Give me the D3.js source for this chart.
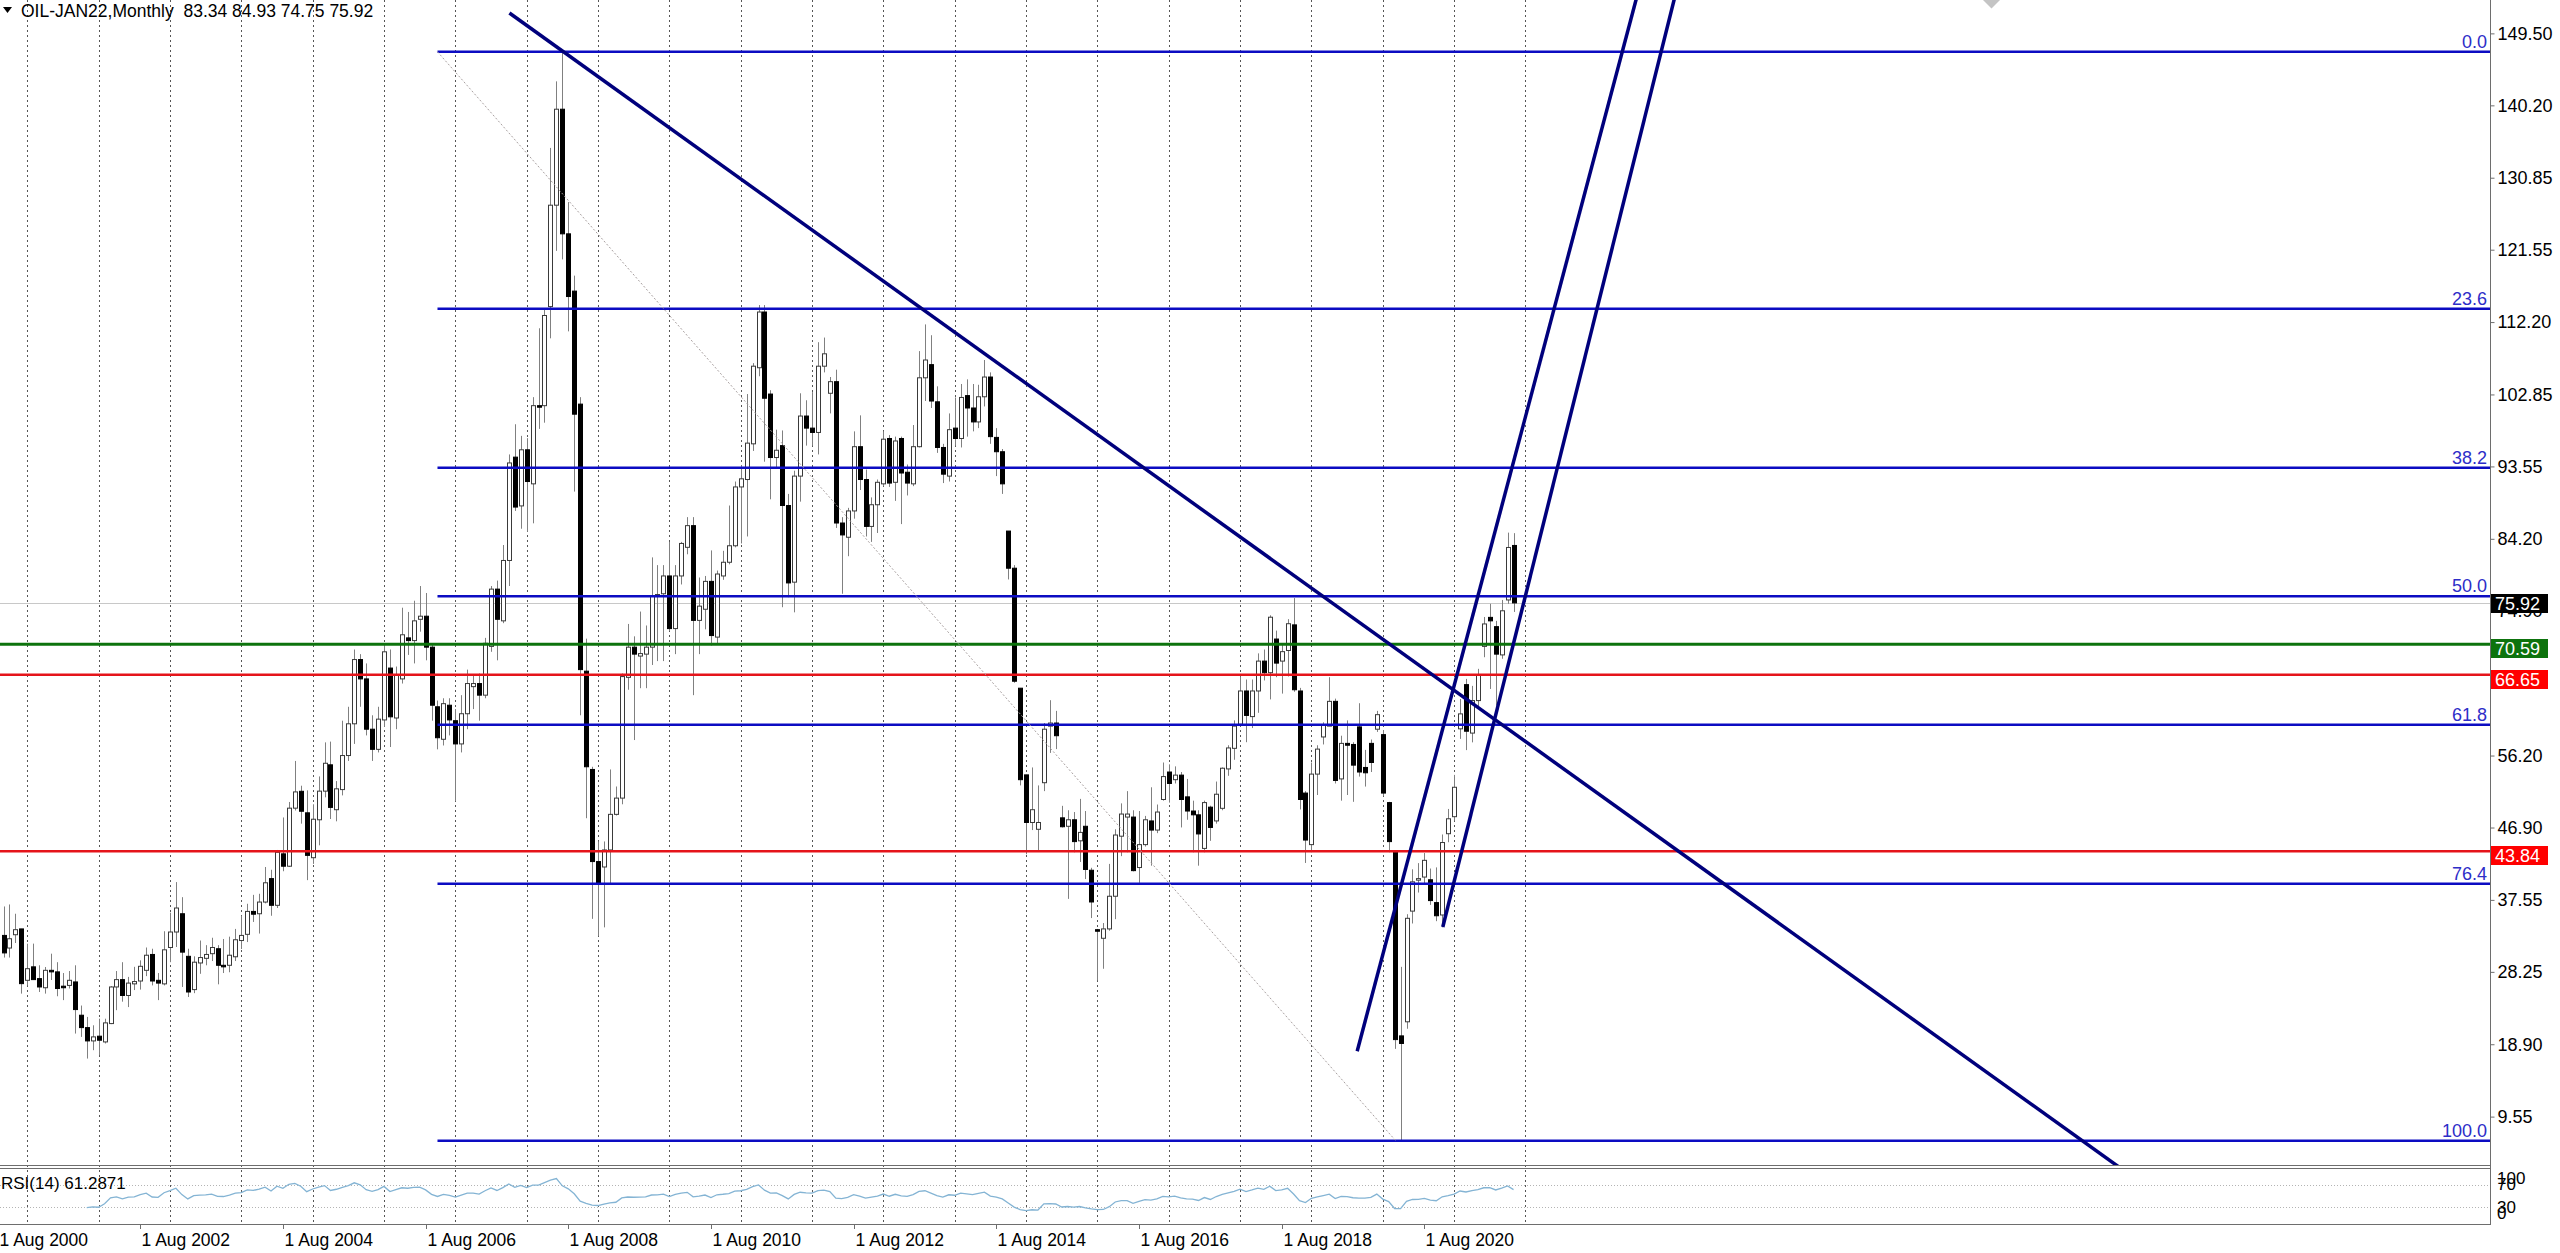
<!DOCTYPE html>
<html>
<head>
<meta charset="utf-8">
<script src="https://cdn.jsdelivr.net/npm/d3@7"></script>
<style>
  body { margin: 0; background: #fff; overflow: hidden; }
  svg { display: block; font-family: "Liberation Sans", Arial, sans-serif; }
</style>
</head>
<body>
<script>
// monthly bars, first one is Sep 2000, last one Nov 2021
var firstBar = "2000-09-01";

var open = [
  32.96,31.33,33.05,33.8,27.16,28.9,27.38,26.2,28.45,28.25,
  26.4,26.5,26.95,22.65,21.05,19.33,19.94,19.2,21.57,26.3,
  27.25,25.2,26.7,27.07,28.45,30.5,27.16,26.7,31.4,33.4,
  35.76,30.26,25.96,29.4,30.0,30.6,31.24,29.1,29.1,30.2,
  32.3,33.1,36.06,35.76,37.27,40.3,36.85,43.5,41.9,49.4,
  51.58,48.8,43.0,47.9,51.6,55.0,49.2,51.8,56.2,60.3,
  68.6,66.1,59.6,57.0,60.8,67.5,61.05,66.1,71.4,71.05,
  73.8,74.2,70.2,62.5,58.3,62.7,60.7,57.7,61.6,65.1,
  65.5,64.0,70.3,77.7,73.6,81.4,94.75,88.45,95.7,91.3,
  101.4,101.4,114.2,127.3,139.7,123.6,116.2,101.6,67.1,54.4,
  42.5,41.8,44.0,48.6,50.7,66.3,70.2,69.05,69.3,70.2,
  76.75,77.1,79.4,72.6,79.4,83.1,85.9,73.66,75.1,78.7,
  71.5,79.4,81.17,83.3,90.9,91.86,96.47,106.3,113.5,102.9,
  94.7,96.24,88.5,78.6,92.3,100.06,98.5,97.94,106.5,103.0,
  104.5,86.24,84.4,87.8,96.1,91.86,85.8,88.6,91.3,97.16,
  91.5,97.16,92.8,91.3,96.1,105.0,106.7,101.9,96.0,92.3,
  98.5,97.16,102.7,101.1,99.3,102.55,105.1,97.3,95.45,85.2,
  80.4,64.9,53.7,47.55,46.67,52.69,60.0,60.4,48.15,47.06,
  47.9,45.18,47.06,41.38,33.7,32.59,33.8,38.02,45.78,48.25,
  48.25,41.73,44.69,47.75,46.57,50.52,54.07,53.08,53.67,50.86,
  49.03,48.54,44.2,49.53,47.75,49.38,54.47,57.13,60.24,64.54,
  61.23,64.54,68.4,66.9,71.25,68.4,69.77,73.08,64.54,51.35,
  44.69,53.8,58.6,60.0,63.2,53.18,57.77,57.63,59.9,54.66,
  57.77,59.6,58.9,50.12,43.7,19.98,21.8,36.1,40.1,40.5,
  40.15,37.2,35.6,46.1,48.3,59.65,65.36,59.1,63.3,70.3,
  74.05,72.85,69.2,76.3,83.34
];
var high = [
  36.7,36.96,35.76,33.8,31.89,31.9,29.1,28.88,30.6,29.5,
  28.1,28.36,29.1,23.9,22.43,21.35,22.2,22.2,26.4,28.36,
  29.5,27.6,28.9,29.74,31.4,31.24,28.1,33.5,35.9,39.85,
  37.9,31.24,30.26,32.3,31.7,32.66,31.7,32.5,32.8,33.8,
  35.5,37.05,38.2,38.34,41.8,41.44,44.0,48.2,50.2,55.5,
  52.3,51.7,49.9,53.5,57.9,58.0,52.9,60.7,62.5,69.9,
  69.3,68.1,61.4,62.5,70.7,69.9,67.7,75.3,74.75,76.2,
  78.1,77.2,70.7,63.3,63.6,63.6,62.2,64.0,67.3,66.6,
  66.8,71.4,78.1,78.8,83.4,95.1,99.0,97.5,97.2,102.5,
  111.4,114.0,134.7,143.3,147.0,127.7,118.2,102.5,71.3,54.75,
  45.1,45.1,54.4,52.2,66.8,73.2,71.6,74.8,73.0,81.8,
  80.8,80.8,83.8,80.8,83.8,87.0,87.0,79.2,79.4,82.7,
  80.1,82.65,88.5,91.6,93.7,102.9,106.9,114.4,114.4,103.4,
  98.3,98.2,90.0,93.0,103.0,102.1,103.15,109.6,110.2,105.1,
  106.05,87.0,88.2,98.08,100.15,93.15,89.55,91.86,98.08,97.6,
  97.4,97.4,93.8,98.9,108.45,111.9,110.5,103.9,96.47,100.4,
  102.46,104.2,104.8,104.2,104.1,107.3,105.7,98.5,95.8,85.2,
  80.8,64.9,53.7,54.66,52.34,60.4,63.35,61.97,49.7,49.13,
  48.9,50.6,49.03,41.7,33.8,34.56,42.2,46.67,50.02,51.6,
  49.13,49.03,48.4,52.1,49.87,55.3,55.06,54.8,54.07,53.18,
  50.37,49.13,50.37,49.72,52.84,54.66,57.53,60.74,66.41,66.02,
  66.02,69.4,69.9,74.32,72.34,70.61,73.82,76.54,64.94,51.6,
  55.3,57.53,60.49,66.32,63.55,58.76,60.74,57.92,62.96,56.93,
  58.27,61.97,59.5,50.22,43.7,28.9,35.7,41.5,42.3,43.6,
  41.6,41.75,46.0,49.3,53.7,63.5,66.1,65.2,67.4,74.1,
  75.8,73.6,76.3,85.0,84.93
];
var low = [
  30.1,30.1,31.98,25.44,26.5,27.2,25.65,25.44,27.2,25.1,
  24.6,26.1,20.28,19.85,17.05,18.13,17.5,19.0,21.5,23.3,
  24.4,23.7,25.9,25.96,27.7,26.5,24.6,26.5,29.5,31.46,
  26.3,25.0,25.5,28.0,29.1,29.65,26.64,28.1,28.2,29.65,
  31.2,32.1,34.7,33.2,37.1,35.5,36.5,41.25,41.8,49.1,
  47.4,40.1,42.2,44.6,50.8,48.0,47.7,51.05,55.5,57.7,
  62.5,58.8,55.5,56.6,59.9,57.3,59.6,65.5,69.2,68.1,
  72.2,68.5,60.7,57.0,57.5,58.8,50.3,56.6,59.6,62.2,
  60.7,63.6,69.6,68.5,73.3,78.1,87.8,85.5,85.1,86.2,
  98.4,99.2,110.1,121.4,120.3,111.0,90.3,61.4,48.1,35.1,
  32.9,34.0,39.6,48.45,49.9,64.7,58.2,64.9,64.9,67.9,
  68.4,68.4,72.3,69.3,78.3,82.2,64.0,69.3,72.5,70.4,
  70.66,78.9,80.9,83.1,83.6,84.5,95.55,105.2,94.16,89.3,
  93.47,75.36,76.65,74.7,89.0,96.24,96.24,95.1,105.7,100.4,
  85.6,77.1,81.95,86.8,90.5,84.5,83.8,84.95,91.0,90.9,
  89.1,86.1,89.8,91.0,96.0,102.0,101.1,95.3,91.4,91.6,
  96.24,96.0,97.4,98.08,98.5,101.3,96.47,92.3,90.0,78.95,
  65.6,52.34,43.45,46.57,43.8,51.6,56.54,57.03,46.9,37.68,
  43.7,42.45,40.24,35.2,27.16,28.65,33.57,35.06,43.2,43.7,
  41.23,39.75,44.44,41.97,46.17,50.37,50.12,52.59,46.91,47.9,
  43.7,41.97,43.7,45.18,47.4,49.13,53.58,55.65,60.0,57.92,
  59.75,61.72,65.9,63.45,66.32,64.2,66.41,64.44,49.23,42.32,
  43.7,51.1,57.63,60.0,52.59,50.37,51.1,50.22,53.48,52.19,
  54.07,59.25,51.0,43.7,18.3,6.42,20.9,34.5,38.5,39.6,
  36.9,34.8,34.0,45.0,47.8,58.35,56.9,57.9,62.6,68.9,
  64.8,62.65,68.7,75.8,74.75
];
var close = [
  30.7,32.53,33.7,26.73,28.66,27.25,26.3,28.45,28.25,26.1,
  26.2,27.16,23.38,21.05,19.33,19.85,19.42,21.66,26.3,27.25,
  25.2,26.8,27.0,28.97,30.4,27.07,26.8,31.1,33.4,36.5,
  30.8,25.65,29.5,30.1,30.5,31.4,29.1,28.9,30.4,32.4,
  32.96,36.06,35.7,37.27,39.76,36.85,43.7,41.9,49.4,51.5,
  49.0,43.3,47.97,51.6,55.2,49.5,51.9,56.2,60.3,68.6,
  66.1,59.6,57.0,60.9,69.6,61.2,66.6,71.8,71.05,73.6,
  74.2,70.2,62.7,58.5,62.9,60.8,57.7,61.6,65.5,65.5,
  64.0,70.7,77.7,73.8,81.4,94.0,88.3,95.7,91.6,101.4,
  101.2,113.05,127.3,139.7,123.6,115.5,100.3,67.3,54.75,42.5,
  39.6,44.0,48.6,50.7,66.4,70.2,69.3,69.37,70.2,76.75,
  77.0,79.4,72.6,79.4,83.6,85.9,73.66,75.5,78.7,71.7,
  79.65,81.17,83.3,90.9,91.95,96.56,106.5,113.5,102.36,94.7,
  95.64,88.5,78.5,92.3,100.06,98.5,97.94,106.5,108.1,104.5,
  86.24,84.7,87.8,96.1,91.86,85.8,88.6,91.5,97.07,91.4,
  96.84,92.7,91.4,96.1,105.0,107.3,102.0,96.0,92.55,98.3,
  97.16,102.46,101.1,99.3,102.55,105.1,97.4,95.45,91.3,80.4,
  65.8,53.08,47.55,49.2,47.55,59.6,60.4,58.76,47.0,47.9,
  45.08,46.27,41.48,37.28,33.5,33.8,38.02,45.93,48.64,48.64,
  41.33,44.69,47.9,46.57,48.9,53.48,52.59,53.67,50.52,49.03,
  48.54,46.07,50.12,46.91,51.2,54.56,57.18,60.0,64.54,61.38,
  64.54,68.4,66.9,74.07,68.14,69.62,73.23,64.7,50.52,45.28,
  53.8,57.03,60.1,63.2,52.98,57.77,57.53,54.96,54.07,53.97,
  55.3,61.48,51.35,45.08,19.5,19.0,35.17,39.88,40.3,42.66,
  37.46,35.5,44.96,48.03,52.1,61.58,59.34,63.3,66.65,73.2,
  73.6,69.3,74.9,83.08,75.92
];

var priceTicks = [149.50,140.20,130.85,121.55,112.20,102.85,93.55,84.20,74.90,65.55,56.20,46.90,37.55,28.25,18.90,9.55];
var dateTicks = ["2000-08-01","2002-08-01","2004-08-01","2006-08-01","2008-08-01","2010-08-01",
                 "2012-08-01","2014-08-01","2016-08-01","2018-08-01","2020-08-01"];
var rsiTicks = [100, 70, 30, 0];
var rsiLevels = [70, 30];

// objects drawn on the chart: bar index + price
var fibAnchors = [{bar: 73, price: 147.12}, {bar: 234.2, price: 6.42}];
var fibLevels = [0, 23.6, 38.2, 50, 61.8, 76.4, 100];
var trendLines = [
  {bar1: 85.1,  price1: 152.13, bar2: 236.6, price2: 68.7},
  {bar1: 227.7, price1: 18.0,   bar2: 274.6, price2: 153.81},
  {bar1: 242.1, price1: 34.05,  bar2: 281.0, price2: 153.81}
];
var levelLines = [
  {price: 70.59, kind: "green"},
  {price: 66.65, kind: "red"},
  {price: 43.84, kind: "red"}
];
var lastPrice = 75.92;
var header = "OIL-JAN22,Monthly  83.34 84.93 74.75 75.92";
var rsiTitle = "RSI(14) 61.2871";

var width = 2560, height = 1253;
var plotRight = 2490, mainBottom = 1166, rsiTop = 1168, rsiBottom = 1225;

var parse = d3.timeParse("%Y-%m-%d");
var start = parse(firstBar);
function barOf(date) { return d3.timeMonth.count(start, date); }

var x = d3.scaleLinear().domain([0, open.length - 1]).range([3.5, 3.5 + (open.length - 1) * 5.945]);
var y = d3.scaleLinear().domain([3.17, 153.81]).range([mainBottom, 0]);
var yr = d3.scaleLinear().domain([0, 100]).range([1224.2, 1168.2]);

var bars = open.map(function(o, i) {
  return {i: i, o: o, h: Math.max(high[i], o, close[i]), l: Math.min(low[i], o, close[i]), c: close[i]};
});

var svg = d3.select("body").append("svg")
  .attr("width", width)
  .attr("height", height);

svg.append("defs").append("clipPath").attr("id", "mainClip")
  .append("rect").attr("x", 0).attr("y", 0).attr("width", plotRight).attr("height", mainBottom);

// yearly grid (January bars)
var years = d3.timeYear.range(parse("2001-01-01"), parse("2022-01-02"));
svg.append("g").selectAll("line")
  .data(years)
  .enter().append("line")
    .attr("x1", function(d) { return Math.round(x(barOf(d))) + 0.5; })
    .attr("x2", function(d) { return Math.round(x(barOf(d))) + 0.5; })
    .attr("y1", 0)
    .attr("y2", rsiBottom)
    .attr("stroke", "#555")
    .attr("stroke-dasharray", "2,3")
;

// price line of the last bar
svg.append("line")
  .attr("x1", 0).attr("x2", plotRight)
  .attr("y1", Math.round(y(lastPrice)) + 0.5).attr("y2", Math.round(y(lastPrice)) + 0.5)
  .attr("stroke", "#c8c8c8");

// candles
var candle = svg.append("g").selectAll("g")
  .data(bars)
  .enter().append("g");

candle.append("line")
  .attr("x1", function(d) { return Math.round(x(d.i)) + 0.5; })
  .attr("x2", function(d) { return Math.round(x(d.i)) + 0.5; })
  .attr("y1", function(d) { return y(d.h); })
  .attr("y2", function(d) { return y(d.l); })
  .attr("stroke", "#808080");

candle.append("rect")
  .attr("x", function(d) { return Math.round(x(d.i)) - 1.5; })
  .attr("y", function(d) { return y(Math.max(d.o, d.c)); })
  .attr("width", 4)
  .attr("height", function(d) { return Math.max(0.5, Math.abs(y(d.o) - y(d.c))); })
  .attr("fill", function(d) { return d.c >= d.o ? "#fff" : "#000"; })
  .attr("stroke", function(d) { return d.c >= d.o ? "#3a3a3a" : "#000"; })
  .attr("stroke-width", 1);

// objects
var objects = svg.append("g").attr("clip-path", "url(#mainClip)");

levelLines.forEach(function(l) {
  objects.append("line")
    .attr("x1", 0).attr("x2", plotRight)
    .attr("y1", y(l.price)).attr("y2", y(l.price))
    .attr("stroke", l.kind == "green" ? "#0d730d" : "#e5141a")
    .attr("stroke-width", l.kind == "green" ? 3 : 2.5);
});

var fibHigh = fibAnchors[0].price, fibLow = fibAnchors[1].price;
fibLevels.forEach(function(p) {
  var price = fibHigh - (fibHigh - fibLow) * p / 100;
  objects.append("line")
    .attr("x1", x(fibAnchors[0].bar)).attr("x2", plotRight)
    .attr("y1", y(price)).attr("y2", y(price))
    .attr("stroke", "#0c0cc2")
    .attr("stroke-width", 2.5);
  objects.append("text")
    .attr("x", plotRight - 3)
    .attr("y", y(price) - 4)
    .attr("text-anchor", "end")
    .attr("fill", "#2d2dc8")
    .style("font-size", "18px")
    .text(p == 100 ? "100.0" : p.toFixed(1));
});

objects.append("line")
  .attr("x1", x(fibAnchors[0].bar)).attr("y1", y(fibAnchors[0].price))
  .attr("x2", x(fibAnchors[1].bar)).attr("y2", y(fibAnchors[1].price))
  .attr("stroke", "#a8a0a0")
  .attr("stroke-dasharray", "2,2");

// trend lines are rays from the first anchor through the second
trendLines.forEach(function(t) {
  var x1 = x(t.bar1), y1 = y(t.price1), x2 = x(t.bar2), y2 = y(t.price2);
  objects.append("line")
    .attr("x1", x1).attr("y1", y1)
    .attr("x2", x1 + (x2 - x1) * 20).attr("y2", y1 + (y2 - y1) * 20)
    .attr("stroke", "#00007c")
    .attr("stroke-width", 3.5);
});

// pane borders
svg.append("line")
  .attr("x1", 0).attr("x2", plotRight).attr("y1", mainBottom - 0.5).attr("y2", mainBottom - 0.5)
  .attr("stroke", "#6e6e6e");
svg.append("rect")
  .attr("x", -1).attr("y", rsiTop + 0.5).attr("width", plotRight + 1.5).attr("height", rsiBottom - rsiTop - 1)
  .attr("fill", "none").attr("stroke", "#6e6e6e");
svg.append("line")
  .attr("x1", plotRight + 0.5).attr("x2", plotRight + 0.5).attr("y1", 0).attr("y2", rsiBottom)
  .attr("stroke", "#6e6e6e");

// RSI(14), Wilder smoothing of the closes
var period = 14, rsi = [];
var gain = 0, loss = 0;
for (var i = 1; i < close.length; i++) {
  var ch = close[i] - close[i - 1];
  var g = ch > 0 ? ch : 0, l = ch < 0 ? -ch : 0;
  if (i <= period) {
    gain += g / period; loss += l / period;
  } else {
    gain = (gain * (period - 1) + g) / period;
    loss = (loss * (period - 1) + l) / period;
  }
  if (i >= period) rsi.push({i: i, v: loss == 0 ? 100 : 100 - 100 / (1 + gain / loss)});
}

svg.append("g").selectAll("line")
  .data(rsiLevels)
  .enter().append("line")
    .attr("x1", 0).attr("x2", plotRight)
    .attr("y1", function(d) { return Math.round(yr(d)) + 0.5; })
    .attr("y2", function(d) { return Math.round(yr(d)) + 0.5; })
    .attr("stroke", "#b4b4b4")
    .attr("stroke-dasharray", "1,2");

svg.append("path")
  .datum(rsi)
  .attr("fill", "none")
  .attr("stroke", "#84b4d4")
  .attr("stroke-width", 1.3)
  .attr("d", d3.line().x(function(d) { return x(d.i); }).y(function(d) { return yr(d.v); }));

svg.append("text")
  .attr("x", 1).attr("y", 1189)
  .style("font-size", "17px")
  .text(rsiTitle);

var rsiLabelY = {100: 1184, 70: 1190, 30: 1213, 0: 1219};
svg.append("g").selectAll("text")
  .data(rsiTicks)
  .enter().append("text")
    .attr("x", 2497)
    .attr("y", function(d) { return rsiLabelY[d]; })
    .style("font-size", "17px")
    .text(function(d) { return d; });

// price axis
var priceAxis = svg.append("g")
  .attr("transform", "translate(" + (plotRight + 0.5) + ",0)")
  .call(d3.axisRight(y).tickValues(priceTicks).tickSize(4).tickPadding(3).tickFormat(d3.format(".2f")));
priceAxis.select(".domain").remove();
priceAxis.selectAll("line").attr("stroke", "#6e6e6e");
priceAxis.selectAll("text").style("font-size", "18px").attr("font-family", null).attr("fill", "#000");

// price tags
var tags = levelLines.map(function(l) {
  return {price: l.price, fill: l.kind == "green" ? "#0d730d" : "#ff0000", dy: -5};
});
tags.unshift({price: lastPrice, fill: "#000", dy: -9});
var tag = svg.append("g").selectAll("g")
  .data(tags)
  .enter().append("g")
    .attr("transform", function(d) { return "translate(" + (plotRight + 1) + "," + Math.round(y(d.price) + d.dy) + ")"; });
tag.append("rect")
  .attr("width", 57).attr("height", 19)
  .attr("fill", function(d) { return d.fill; });
tag.append("text")
  .attr("x", 4).attr("y", 16)
  .attr("fill", "#fff")
  .style("font-size", "18px")
  .text(function(d) { return d.price.toFixed(2); });

// time axis
var dateFmt = d3.timeFormat("%-d %b %Y");
var timeAxis = svg.append("g").selectAll("g")
  .data(dateTicks.map(parse))
  .enter().append("g")
    .attr("transform", function(d) { return "translate(" + (Math.round(x(barOf(d))) + 0.5) + "," + rsiBottom + ")"; });
timeAxis.append("line")
  .attr("y1", 0).attr("y2", 4)
  .attr("stroke", "#6e6e6e");
timeAxis.append("text")
  .attr("x", 1).attr("y", 21)
  .style("font-size", "17.5px")
  .text(function(d) { return dateFmt(d); });

// header
svg.append("path")
  .attr("d", "M3,7 L12,7 L7.5,13 Z")
  .attr("fill", "#000");
svg.append("text")
  .attr("x", 21).attr("y", 17)
  .style("font-size", "17.5px")
  .attr("xml:space", "preserve")
  .style("white-space", "pre")
  .text(header);

// chart shift marker
svg.append("path")
  .attr("d", "M1982,-1 L2001,-1 L1991.5,8.5 Z")
  .attr("fill", "#c4c4c4");
</script>
</body>
</html>
